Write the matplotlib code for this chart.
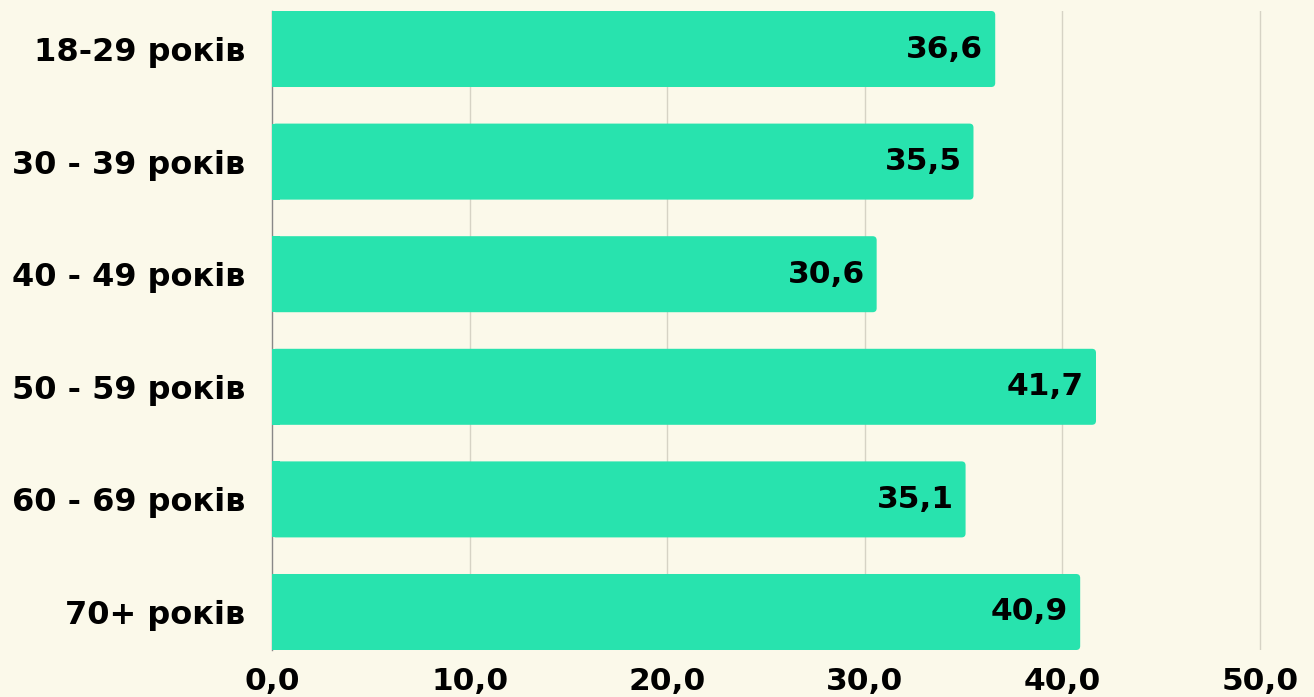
import matplotlib.pyplot as plt
from matplotlib.patches import FancyBboxPatch

categories = ['18-29 років', '30 - 39 років', '40 - 49 років',
              '50 - 59 років', '60 - 69 років', '70+ років']
values = [36.6, 35.5, 30.6, 41.7, 35.1, 40.9]
xticks = [0, 10, 20, 30, 40, 50]

bg = '#fbf9ea'
bar_color = '#28e3ae'

fig = plt.figure(figsize=(13.14, 6.97), dpi=100, facecolor=bg)
ax = fig.add_axes([272 / 1314, 1 - 650 / 697, 1 - 272 / 1314, 639 / 697])
ax.set_facecolor(bg)

h = 0.675
xmax = (1314 - 272) / 19.76
ax.set_xlim(0, xmax)
ax.set_ylim(len(values) - 1 + h / 2, -h / 2)

# pixels per unit, to keep corner radius round
px_x = 19.76
px_y = 639 / (len(values) - 1 + h)
r = 4 / px_x
for i, v in enumerate(values):
    ax.add_patch(FancyBboxPatch((0, i - h / 2), v, h,
                                boxstyle=f'round,pad=0,rounding_size={r}',
                                mutation_aspect=px_x / px_y,
                                facecolor=bar_color, edgecolor='none', zorder=3))
    # square off the left corners
    ax.add_patch(plt.Rectangle((0, i - h / 2), 2 * r, h, antialiased=False,
                               facecolor=bar_color, edgecolor='none', zorder=3))
    ax.text(v - 12 / px_x, i, f'{v:.1f}'.replace('.', ','), ha='right', va='center',
            fontsize=22.5, fontweight='bold', color='black', zorder=4)

ax.set_xticks(xticks)
ax.set_xticklabels([f'{t:.1f}'.replace('.', ',') for t in xticks],
                   fontsize=22.5, fontweight='bold')
ax.set_yticks(range(len(categories)))
ax.set_yticklabels(categories, fontsize=23, fontweight='bold')
ax.tick_params(length=0)
ax.tick_params(axis='y', pad=19)
ax.tick_params(axis='x', pad=12)

for t in xticks[1:]:
    ax.axvline(t, color='#d6d3c5', lw=1, zorder=1)

for s in ['top', 'right', 'bottom']:
    ax.spines[s].set_visible(False)
ax.spines['left'].set_color('#888888')
ax.spines['left'].set_linewidth(1)

fig.savefig('out.png', facecolor=bg)
